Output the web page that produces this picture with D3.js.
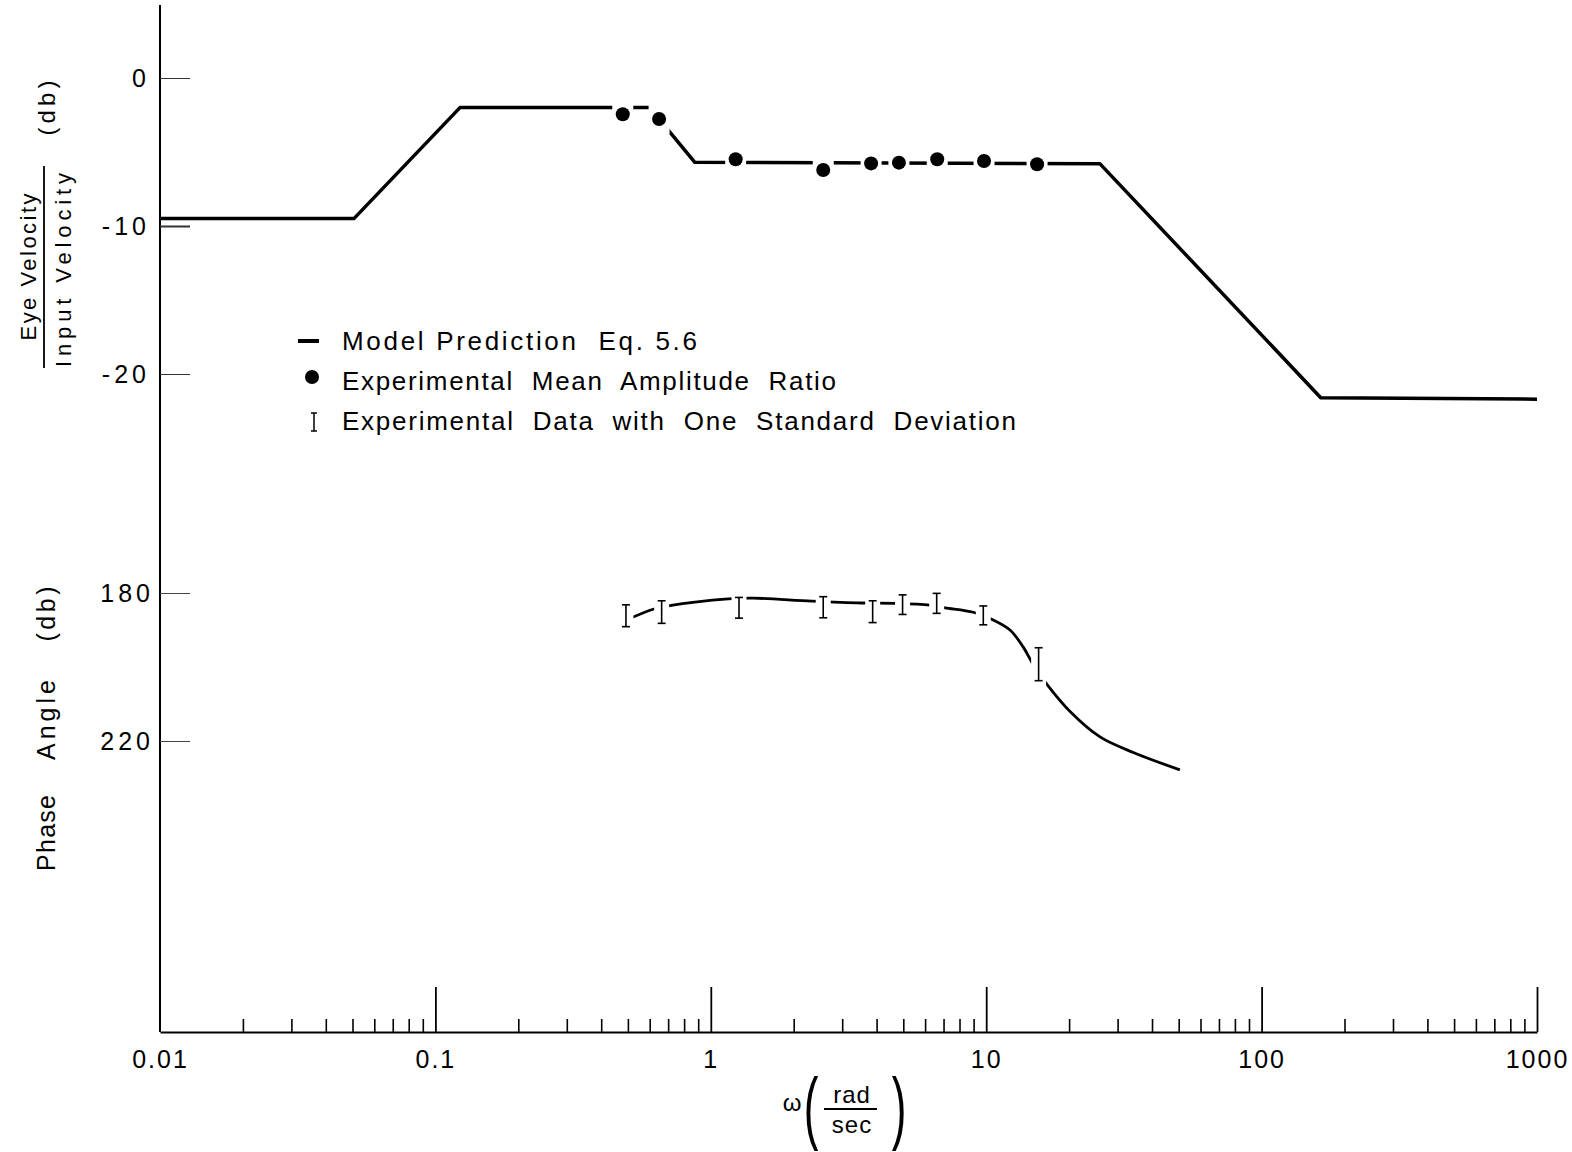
<!DOCTYPE html>
<html><head><meta charset="utf-8">
<script src="https://cdn.jsdelivr.net/npm/d3@7"></script>
<style>
body{margin:0;background:#fff}
text{font-family:"Liberation Sans",Arial,sans-serif;fill:#000}
</style>
</head><body>
<svg id="c" width="1572" height="1152"></svg>
<script>
// ---------- data ----------
const ampFreqs = [0.479, 0.649, 1.231, 2.56, 3.82, 4.82, 6.64, 9.82, 15.3];
const ampDb    = [-2.45, -2.77, -5.49, -6.22, -5.77, -5.72, -5.49, -5.61, -5.83];

const phaseFreqs = [0.492, 0.663, 1.266, 2.56, 3.87, 4.97, 6.61, 9.76, 15.5];
const phaseLow   = [183.2, 182.1, 181.2, 181.0, 182.1, 180.5, 180.1, 183.5, 194.8];
const phaseHigh  = [189.1, 188.2, 186.8, 186.7, 188.0, 185.8, 185.5, 188.6, 203.7];

const modelAmpFreq = [0.01, 0.0506, 0.1228, 0.60, 0.875, 25.9, 164, 1000];
const modelAmpDb   = [-9.5, -9.5, -2.0, -2.0, -5.7, -5.8, -21.6, -21.7];

const modelPhaseFreq = [0.49, 0.618, 0.701, 1.157, 1.427, 2.325, 3.53, 4.70, 6.25, 7.09, 8.98, 10.47, 12.2, 13.6, 14.8, 16.7, 20.2, 25.9, 34.2, 50.5];
const modelPhaseDeg  = [187.4, 184.4, 183.5, 181.6, 181.4, 182.2, 182.7, 182.8, 183.3, 184.0, 185.2, 187.1, 190.0, 194.5, 199.3, 204.9, 212.1, 218.9, 223.1, 227.8];

const xTickValues = [0.01, 0.1, 1, 10, 100, 1000];
const xTickLabels = ["0.01", "0.1", "1", "10", "100", "1000"];
const ampTicks = [0, -10, -20];
const ampTickLabels = ["0", "-10", "-20"];
const phaseTicks = [180, 220];
const phaseTickLabels = ["180", "220"];

const legendLabels = ["Model Prediction  Eq. 5.6", "Experimental  Mean  Amplitude  Ratio", "Experimental  Data  with  One  Standard  Deviation"];

// ---------- setup ----------
const W = 1572, H = 1152;
const svg = d3.select("#c");
const x = d3.scaleLog().domain([0.01, 1000]).range([160, 1537]);
const yA = d3.scaleLinear().domain([0, -20]).range([78, 374]);
const yP = d3.scaleLinear().domain([180, 220]).range([593, 741]);
const axisY = 1032;

// masks for gaps
const defs = svg.append("defs");
const m1 = defs.append("mask").attr("id", "ampGap").attr("maskUnits", "userSpaceOnUse")
  .attr("x", 0).attr("y", 0).attr("width", W).attr("height", H);
m1.append("rect").attr("width", W).attr("height", H).attr("fill", "#fff");
m1.selectAll("rect.g").data(ampFreqs).join("rect").attr("class", "g")
  .attr("x", d => x(d) - 10.5).attr("width", 21)
  .attr("y", (d, i) => yA(ampDb[i]) - 15).attr("height", 30).attr("fill", "#000");

const m2 = defs.append("mask").attr("id", "phGap").attr("maskUnits", "userSpaceOnUse")
  .attr("x", 0).attr("y", 0).attr("width", W).attr("height", H);
m2.append("rect").attr("width", W).attr("height", H).attr("fill", "#fff");
m2.selectAll("rect.g").data(phaseFreqs).join("rect").attr("class", "g")
  .attr("x", d => x(d) - 7.5).attr("width", 15)
  .attr("y", (d, i) => yP(phaseLow[i]) - 6)
  .attr("height", (d, i) => yP(phaseHigh[i]) - yP(phaseLow[i]) + 12).attr("fill", "#000");

// ---------- axes ----------
svg.append("line").attr("x1", 160).attr("x2", 160).attr("y1", 5).attr("y2", axisY)
  .attr("stroke", "#000").attr("stroke-width", 2);

const ampAxis = svg.append("g").attr("transform", "translate(160,0)")
  .call(d3.axisLeft(yA).tickValues(ampTicks).tickSizeInner(-30).tickSizeOuter(0).tickPadding(10)
    .tickFormat((d, i) => ampTickLabels[i]));
ampAxis.select(".domain").remove();
ampAxis.selectAll(".tick line").attr("stroke", "#333").attr("stroke-width", (d) => d === -10 ? 2 : 1);
ampAxis.selectAll(".tick text").attr("font-size", 25).attr("letter-spacing", 4)
  .attr("font-family", "Liberation Sans, Arial, sans-serif").attr("fill", "#000");

const phAxis = svg.append("g").attr("transform", "translate(160,0)")
  .call(d3.axisLeft(yP).tickValues(phaseTicks).tickSizeInner(-30).tickSizeOuter(0).tickPadding(6)
    .tickFormat((d, i) => phaseTickLabels[i]));
phAxis.select(".domain").remove();
phAxis.selectAll(".tick line").attr("stroke", "#444").attr("stroke-width", 1);
phAxis.selectAll(".tick text").attr("font-size", 25).attr("letter-spacing", 4)
  .attr("font-family", "Liberation Sans, Arial, sans-serif").attr("fill", "#000");

// bottom axis: minor ticks
const minor = [];
[0.01, 0.1, 1, 10, 100].forEach(dec => { for (let k = 2; k <= 9; k++) minor.push(dec * k); });
const minAxis = svg.append("g").attr("transform", `translate(0,${axisY})`)
  .call(d3.axisBottom(x).tickValues(minor).tickSizeInner(-13).tickSizeOuter(0).tickFormat(""));
minAxis.select(".domain").attr("stroke-width", 2);
minAxis.selectAll(".tick line").attr("stroke-width", 1.6);

const majAxis = svg.append("g").attr("transform", `translate(0,${axisY})`)
  .call(d3.axisBottom(x).tickValues(xTickValues).tickSizeInner(-45).tickSizeOuter(0).tickPadding(18)
    .tickFormat((d, i) => xTickLabels[i]));
majAxis.select(".domain").remove();
majAxis.selectAll(".tick line").attr("stroke-width", 1.8).filter(d => d === 0.01).remove();
majAxis.selectAll(".tick text").attr("font-size", 25).attr("letter-spacing", 2)
  .attr("font-family", "Liberation Sans, Arial, sans-serif").attr("fill", "#000");

// ---------- magnitude ----------
const ampLine = d3.line().x(d => x(d[0])).y(d => yA(d[1]));
svg.append("path").datum(d3.zip(modelAmpFreq, modelAmpDb))
  .attr("d", ampLine).attr("fill", "none").attr("stroke", "#000")
  .attr("stroke-width", 3.5).attr("stroke-linejoin", "round")
  .attr("mask", "url(#ampGap)");
svg.append("g").selectAll("circle").data(d3.zip(ampFreqs, ampDb)).join("circle")
  .attr("cx", d => x(d[0])).attr("cy", d => yA(d[1])).attr("r", 7).attr("fill", "#000");

// ---------- phase ----------
const phLine = d3.line().x(d => x(d[0])).y(d => yP(d[1])).curve(d3.curveCatmullRom.alpha(0.5));
svg.append("path").datum(d3.zip(modelPhaseFreq, modelPhaseDeg))
  .attr("d", phLine).attr("fill", "none").attr("stroke", "#000")
  .attr("stroke-width", 2.8).attr("mask", "url(#phGap)");
const eb = svg.append("g").attr("stroke", "#000").attr("stroke-width", 1.6);
phaseFreqs.forEach((f, i) => {
  const cx = x(f), t = yP(phaseLow[i]), b = yP(phaseHigh[i]);
  eb.append("line").attr("x1", cx).attr("x2", cx).attr("y1", t).attr("y2", b);
  eb.append("line").attr("x1", cx - 4).attr("x2", cx + 4).attr("y1", t).attr("y2", t);
  eb.append("line").attr("x1", cx - 4).attr("x2", cx + 4).attr("y1", b).attr("y2", b);
});

// ---------- legend ----------
const lg = svg.append("g");
lg.append("line").attr("x1", 298).attr("x2", 319).attr("y1", 341).attr("y2", 341)
  .attr("stroke", "#000").attr("stroke-width", 4);
lg.append("circle").attr("cx", 312).attr("cy", 377).attr("r", 7).attr("fill", "#000");
lg.append("line").attr("x1", 314).attr("x2", 314).attr("y1", 413).attr("y2", 431).attr("stroke", "#000").attr("stroke-width", 1.5);
lg.append("line").attr("x1", 311).attr("x2", 317).attr("y1", 413).attr("y2", 413).attr("stroke", "#000").attr("stroke-width", 1.5);
lg.append("line").attr("x1", 311).attr("x2", 317).attr("y1", 431).attr("y2", 431).attr("stroke", "#000").attr("stroke-width", 1.5);
const legW = [355, 494, 674], legY = [341, 381, 421];
legendLabels.forEach((t, i) => {
  lg.append("text").attr("x", 342).attr("y", legY[i]).attr("dy", "0.36em")
    .attr("font-size", 26).attr("xml:space", "preserve")
    .attr("textLength", legW[i]).attr("lengthAdjust", "spacing").text(t);
});

// ---------- axis titles ----------
function vtext(cx, cy, str, size, len) {
  const t = svg.append("text").attr("transform", `translate(${cx},${cy}) rotate(-90)`)
    .attr("text-anchor", "middle").attr("dy", "0.36em").attr("font-size", size).text(str);
  if (len) t.attr("textLength", len).attr("lengthAdjust", "spacing");
  return t;
}
vtext(28, 267, "Eye  Velocity", 22, 147);
svg.append("line").attr("x1", 44).attr("x2", 44).attr("y1", 166).attr("y2", 368).attr("stroke", "#000").attr("stroke-width", 1.8);
vtext(63, 270, "Input  Velocity", 22, 194);
vtext(46, 108, "(db)", 24, 55);
vtext(46, 833, "Phase", 25, 76);
vtext(46, 720, "Angle", 25, 80);
vtext(46, 614, "(db)", 25, 55);

// x title
svg.append("text").attr("x", 792).attr("y", 1111).attr("text-anchor", "middle").attr("font-size", 24).text("ω");
svg.append("text").attr("transform", "translate(811,1134) scale(0.55,1)").attr("text-anchor", "middle")
  .attr("font-size", 80).text("(");
svg.append("text").attr("transform", "translate(899,1134) scale(0.55,1)").attr("text-anchor", "middle")
  .attr("font-size", 80).text(")");
svg.append("text").attr("x", 852).attr("y", 1103).attr("text-anchor", "middle").attr("font-size", 24)
  .attr("letter-spacing", 1).text("rad");
svg.append("line").attr("x1", 824).attr("x2", 877).attr("y1", 1109).attr("y2", 1109).attr("stroke", "#000").attr("stroke-width", 1.8);
svg.append("text").attr("x", 852).attr("y", 1133).attr("text-anchor", "middle").attr("font-size", 24)
  .attr("letter-spacing", 1).text("sec");
</script>
</body></html>
